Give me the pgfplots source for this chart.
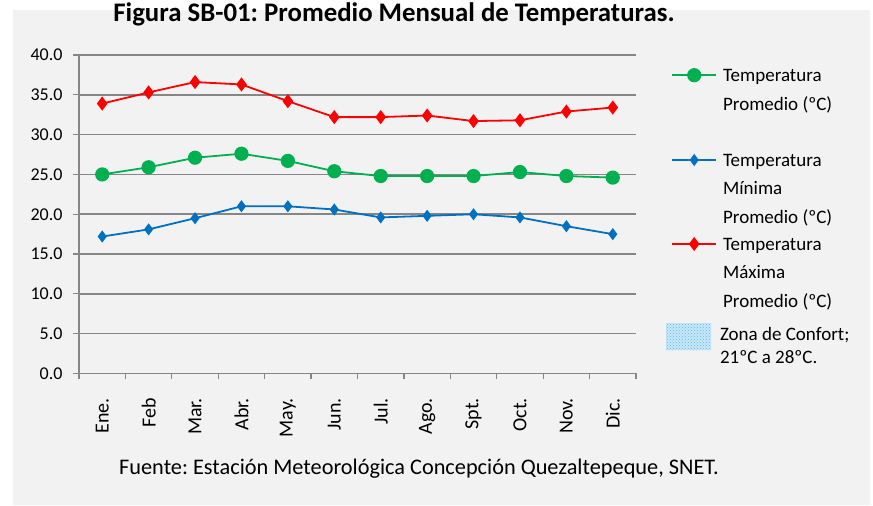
\documentclass[border=0pt]{standalone}
\usepackage{pgfplots}
\pgfplotsset{compat=1.18}
\usepackage{fontspec}
\setmainfont{Carlito}
\usetikzlibrary{patterns}
\definecolor{bggray}{HTML}{F2F2F2}
\definecolor{gridgray}{HTML}{868686}
\definecolor{tred}{HTML}{FF0000}
\definecolor{tblue}{HTML}{0070C0}
\definecolor{tgreen}{HTML}{00B050}
\definecolor{zonebg}{HTML}{C8E8F8}
\definecolor{zonedot}{HTML}{5AB9EB}
\newcommand{\LF}[1]{\hbox{\vrule width0pt height20pt\smash{#1}}}
\newcommand{\LL}[1]{\hbox{\smash{#1}}}
\newcommand{\LEntry}[2]{\raisebox{-6.7pt}{\vtop{\offinterlineskip #1\kern#2}}}
\frenchspacing
\begin{document}
\begin{tikzpicture}[x=1pt,y=1pt]
\path[use as bounding box] (0,0) rectangle (873,506);
\fill[bggray] (13,1) rectangle (870,496);
\begin{axis}[
  at={(79pt,132.5pt)}, anchor=south west,
  scale only axis, width=557pt, height=318.5pt,
  xmin=-0.5, xmax=11.5, ymin=0, ymax=40,
  clip=false,
  axis x line*=bottom, axis y line*=left,
  axis line style={gridgray, line width=1.5pt},
  ytick={0,5,...,40},
  ymajorgrids, grid style={gridgray, line width=1.6pt},
  tick align=outside,
  major tick length=6pt,
  tick style={gridgray, line width=1.2pt},
  xtick={0,...,11},
  xticklabels={Ene.,Feb,Mar.,Abr.,May.,Jun.,Jul.,Ago.,Spt.,Oct.,Nov.,Dic.},
  major x tick style={draw=none},
  extra x ticks={-0.5,0.5,...,11.5},
  extra x tick labels={},
  extra x tick style={major x tick style={draw=gridgray, line width=1.2pt}},
  xticklabel style={yshift=-15pt, rotate=90, anchor=east, font=\fontsize{20}{22}\selectfont},
  yticklabel style={xshift=-7pt, font=\fontsize{18}{20}\selectfont},
  /pgf/number format/.cd, fixed, fixed zerofill, precision=1, assume math mode=true,
  /pgfplots/.cd,
  legend image code/.code={\draw[mark repeat=2,mark phase=2,#1] plot coordinates {(0pt,0pt) (22pt,0pt) (44pt,0pt)};},
  every axis legend/.style={at={(1.05386,0.97896)}, anchor=north west, inner sep=0pt, draw=none, fill=none, shape=rectangle, cells={anchor=base west}, nodes={inner sep=0pt}, column sep=6pt, font=\fontsize{19}{22}\selectfont},
  legend style={cells={anchor=base west}},
]
\addplot[tgreen, line width=1.8pt, mark=*, mark size=6.2pt, mark options={draw=none, fill=tgreen}] coordinates {
 (0,25.0) (1,25.9) (2,27.1) (3,27.6) (4,26.7) (5,25.4) (6,24.8) (7,24.8) (8,24.8) (9,25.3) (10,24.8) (11,24.6)};
\addlegendentry{\LEntry{\LF{Temperatura}\kern28.2pt\LL{Promedio (ºC)}}{36.6pt}}
\addplot[tblue, line width=1.8pt, mark=diamond*, mark size=4.6pt, mark options={draw=none, fill=tblue}] coordinates {
 (0,17.2) (1,18.1) (2,19.5) (3,21.0) (4,21.0) (5,20.6) (6,19.6) (7,19.8) (8,20.0) (9,19.6) (10,18.5) (11,17.5)};
\addlegendentry{\LEntry{\LF{Temperatura}\kern28.2pt\LL{Mínima}\kern28.2pt\LL{Promedio (ºC)}}{7.6pt}}
\addplot[tred, line width=1.8pt, mark=diamond*, mark size=5.6pt, mark options={draw=none, fill=tred}] coordinates {
 (0,33.9) (1,35.3) (2,36.6) (3,36.3) (4,34.2) (5,32.2) (6,32.2) (7,32.4) (8,31.7) (9,31.8) (10,32.9) (11,33.4)};
\addlegendentry{\LEntry{\LF{Temperatura}\kern28.2pt\LL{Máxima}\kern28.2pt\LL{Promedio (ºC)}}{13.1pt}}
\addlegendimage{legend image code/.code={\fill[zonebg, draw=none] (-6pt,-16.7pt) rectangle (39pt,10.3pt); \fill[pattern=crosshatch dots, pattern color=zonedot, draw=none] (-6pt,-16.7pt) rectangle (39pt,10.3pt);}}
\addlegendentry{\LEntry{\LF{\kern-3pt Zona de Confort;}\kern23pt\LL{\kern-3pt 21ºC a 28ºC.}}{0pt}}
\end{axis}
\node[anchor=base, inner sep=0pt, font=\fontsize{26.8}{30}\selectfont\bfseries] at (394,484) {Figura SB-01: Promedio Mensual de Temperaturas.};
\node[anchor=base west, inner sep=0pt, font=\fontsize{22.3}{24}\selectfont] at (119,31) {Fuente: Estación Meteorológica Concepción Quezaltepeque, SNET.};
\end{tikzpicture}
\end{document}
